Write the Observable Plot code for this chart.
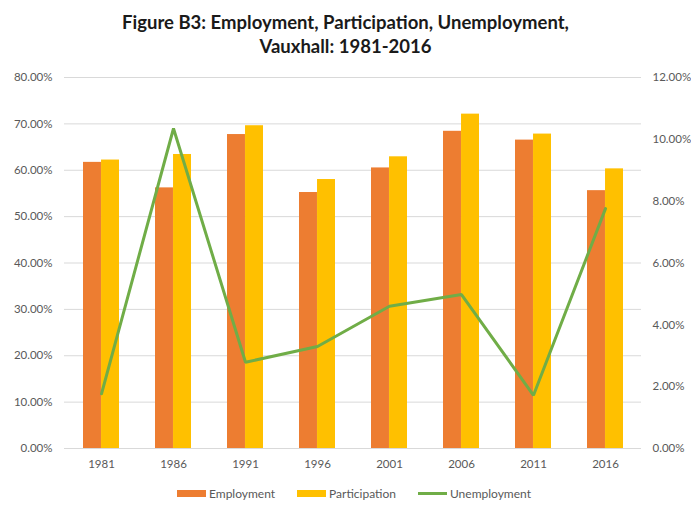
<!DOCTYPE html>
<html><head><meta charset="utf-8">
<script src="https://cdn.jsdelivr.net/npm/d3@7"></script>
<script src="https://cdn.jsdelivr.net/npm/@observablehq/plot@0.6"></script>
<style>
body{margin:0;background:#fff;font-family:Lato,"Open Sans",sans-serif;width:691px;}
#title{height:62px;text-align:center;font-weight:bold;font-size:18.5px;line-height:24px;padding-top:10px;box-sizing:border-box;color:#1a1a1a;}
#chart{height:416px;}
#legend{height:30px;display:flex;justify-content:center;align-items:center;font-size:12px;color:#595959;padding-left:17px;box-sizing:border-box;}
.item{display:flex;align-items:center;margin:0 11px;}
.sw{width:29px;height:7px;margin-right:3px;}
.ln{width:29px;height:3px;margin-right:3px;}
</style></head><body>
<div id="title">Figure B3: Employment, Participation, Unemployment,<br>Vauxhall: 1981-2016</div>
<div id="chart"></div>
<div id="legend"></div>
<script>
const years = ["1981","1986","1991","1996","2001","2006","2011","2016"];
const employment = [61.7, 56.2, 67.7, 55.2, 60.5, 68.4, 66.5, 55.6];
const participation = [62.2, 63.4, 69.6, 58.0, 62.9, 72.1, 67.8, 60.3];
const unemployment = [1.77, 10.35, 2.79, 3.3, 4.6, 4.98, 1.72, 7.76];
const leftTicks = [0,10,20,30,40,50,60,70,80];
const rightTicks = [0,2,4,6,8,10,12];
const seriesNames = ["Employment","Participation","Unemployment"];
const colors = ["#ED7D31","#FFC000","#70AD47"];

const k = 80/12;
const rows = years.map((year,i)=>({year, emp:employment[i], part:participation[i], unemp:unemployment[i]}));
const W = 691, ML = 64, MR = 50;
const step = (W-ML-MR)/8;
const half = step*0.5/2;

const chart = Plot.plot({
  width: W, height: 416,
  marginTop: 15, marginBottom: 30, marginLeft: ML, marginRight: MR,
  x: {type:"band", domain: years, paddingInner: 0.5, paddingOuter: 0.25, label: null},
  y: {domain:[0,80], label: null},
  style: {fontFamily: "Lato, 'Open Sans', sans-serif", fontSize: "11.5px", color: "#595959", background:"#fff"},
  marks: [
    Plot.ruleY(leftTicks, {stroke:"#d9d9d9", strokeWidth:1}),
    Plot.barY(rows, {x:"year", y:"emp", fill: colors[0], insetRight: half}),
    Plot.barY(rows, {x:"year", y:"part", fill: colors[1], insetLeft: half}),
    Plot.line(rows, {x:"year", y: d => d.unemp*k, stroke: colors[2], strokeWidth: 3, strokeLinejoin:"miter"}),
    Plot.axisY({anchor:"left", ticks: leftTicks, tickFormat: d => d.toFixed(2)+"%", tickSize:0, tickPadding:12, label:null}),
    Plot.axisY({anchor:"right", ticks: rightTicks.map(v=>v*k), tickFormat: d => (d/k).toFixed(2)+"%", tickSize:0, tickPadding:11, label:null}),
    Plot.axisX({tickSize:0, tickPadding:11, label:null})
  ]
});
document.getElementById("chart").appendChild(chart);

const leg = document.getElementById("legend");
seriesNames.forEach((n,i)=>{
  const it = document.createElement("div"); it.className="item";
  const s = document.createElement("div"); s.className = i<2 ? "sw" : "ln"; s.style.background = colors[i];
  const t = document.createElement("span"); t.textContent = n;
  it.appendChild(s); it.appendChild(t); leg.appendChild(it);
});
</script>
</body></html>
